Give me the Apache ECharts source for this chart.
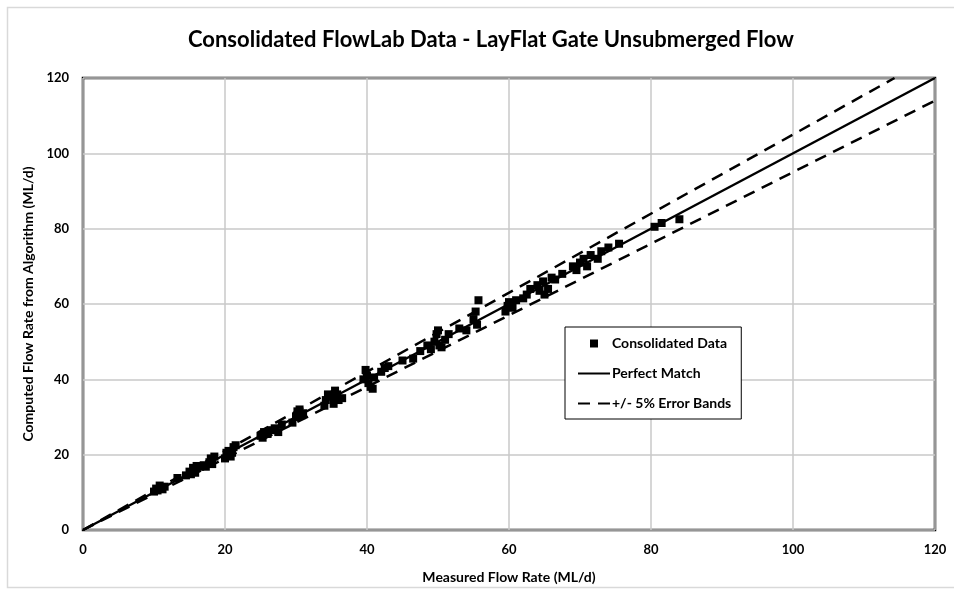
<!DOCTYPE html>
<html>
<head>
<meta charset="utf-8">
<script src="https://cdn.jsdelivr.net/npm/echarts@6/dist/echarts.min.js"></script>
<style>html,body{margin:0;padding:0;background:#fff}#c{width:954px;height:590px}</style>
</head>
<body>
<div id="c"></div>
<script>
const measured = [10.0,10.3,10.5,10.8,11.0,11.2,11.5,13.3,14.5,15.0,15.2,15.5,15.8,16.0,16.5,17.0,17.3,17.8,18.0,18.2,18.5,
  20.0,20.2,20.5,20.8,21.0,21.2,21.5,25.0,25.3,25.5,26.0,26.5,27.0,27.5,28.0,29.5,30.0,30.2,30.5,30.8,31.0,
  34.0,34.2,34.5,35.0,35.3,35.5,35.8,36.0,36.5,39.5,39.8,40.0,40.2,40.5,40.8,41.0,42.0,42.5,43.0,45.0,46.5,47.5,
  48.5,49.0,49.5,49.8,50.0,50.2,50.5,51.0,51.5,53.0,54.0,55.0,55.3,55.7,55.5,59.5,59.8,60.0,60.5,61.0,62.0,62.5,
  63.0,64.0,64.3,64.8,65.0,65.5,66.0,66.5,67.5,69.0,69.5,70.0,70.5,71.0,71.5,72.5,73.0,74.0,75.5,80.5,81.5,84.0];
const computed = [10.2,11.0,10.5,11.8,11.2,10.8,11.5,13.8,14.5,15.5,14.8,16.5,15.2,17.0,16.8,17.2,16.8,18.0,19.0,17.5,19.5,
  19.0,20.5,21.0,19.5,20.5,22.0,22.5,25.0,24.5,26.0,25.5,26.5,27.0,26.0,28.0,28.5,30.0,31.5,32.0,30.5,31.0,
  33.0,34.5,36.0,35.5,33.5,37.0,36.0,34.5,35.0,40.0,42.5,41.0,39.0,38.0,37.5,40.5,42.0,43.0,43.5,45.0,45.5,47.5,
  49.0,48.0,50.0,52.0,53.0,49.0,48.5,50.5,52.0,53.5,53.0,56.0,58.0,61.0,54.5,58.0,59.5,60.5,59.0,61.0,61.5,62.5,
  64.0,65.0,63.5,66.0,62.5,64.0,67.0,66.5,68.0,70.0,69.0,71.0,72.0,70.0,73.0,72.0,74.0,75.0,76.0,80.5,81.5,82.5];
const perfectX = [0, 120];
const perfectY = [0, 120];
const upperX = [0, 114.3];
const upperY = [0, 120];
const lowerX = [0, 120];
const lowerY = [0, 114];
const xTicks = [0, 20, 40, 60, 80, 100, 120];
const yTicks = [0, 20, 40, 60, 80, 100, 120];

const FONT = 'Lato';
const pts = measured.map((x, i) => [x, computed[i]]);
const pair = (xs, ys) => xs.map((x, i) => [x, ys[i]]);

const chart = echarts.init(document.getElementById('c'), null, {renderer: 'canvas'});
chart.setOption({
  animation: false,
  backgroundColor: '#fff',
  graphic: [{
    type: 'rect', left: 5, top: 5, z: -10, silent: true,
    shape: {width: 960, height: 580},
    style: {fill: 'none', stroke: '#d9d9d9', lineWidth: 1.5}
  }],
  title: {
    text: 'Consolidated FlowLab Data - LayFlat Gate Unsubmerged Flow',
    left: 183, top: 24,
    textStyle: {fontFamily: FONT, fontWeight: 'bold', fontSize: 22, color: '#000'}
  },
  grid: {left: 83, top: 78, right: 19, bottom: 60, show: true, borderColor: '#000', borderWidth: 2.5, backgroundColor: 'transparent'},
  legend: {
    orient: 'vertical', left: 565, top: 327,
    backgroundColor: '#fff', borderColor: '#000', borderWidth: 1,
    padding: [8, 10, 7, 12], itemGap: 13, itemWidth: 32, itemHeight: 8,
    textStyle: {fontFamily: FONT, fontWeight: 'bold', fontSize: 14, color: '#000', padding: [0, 0, 0, -3], lineHeight: 17},
    data: [
      {name: 'Consolidated Data', icon: 'path://M0,0H1V1H0Z'},
      {name: 'Perfect Match', itemStyle: {opacity: 0}},
      {name: '+/- 5% Error Bands', itemStyle: {opacity: 0}}
    ]
  },
  xAxis: {
    type: 'value', min: xTicks[0], max: xTicks[xTicks.length - 1], interval: 20,
    name: 'Measured Flow Rate (ML/d)', nameLocation: 'middle', nameGap: 40,
    nameTextStyle: {fontFamily: FONT, fontWeight: 'bold', fontSize: 14, color: '#000'},
    axisLine: {show: false}, axisTick: {show: false},
    axisLabel: {fontFamily: FONT, fontWeight: 'bold', fontSize: 13, color: '#000', margin: 13},
    splitLine: {show: true, lineStyle: {color: '#c8c8c8', width: 1.5}}
  },
  yAxis: {
    type: 'value', min: yTicks[0], max: yTicks[yTicks.length - 1], interval: 20,
    name: 'Computed Flow Rate from Algorithm (ML/d)', nameLocation: 'middle', nameGap: 46,
    nameTextStyle: {fontFamily: FONT, fontWeight: 'bold', fontSize: 14, color: '#000'},
    axisLine: {show: false}, axisTick: {show: false},
    axisLabel: {fontFamily: FONT, fontWeight: 'bold', fontSize: 13, color: '#000', margin: 14},
    splitLine: {show: true, lineStyle: {color: '#c8c8c8', width: 1.5}}
  },
  series: [
    {
      name: 'Consolidated Data', type: 'scatter', data: pts,
      symbol: 'rect', symbolSize: 8, itemStyle: {color: '#000', opacity: 1}, z: 5
    },
    {
      name: 'Perfect Match', type: 'line', data: pair(perfectX, perfectY),
      symbol: 'none', lineStyle: {color: '#000', width: 2.5}, itemStyle: {color: '#000'}, z: 3
    },
    {
      name: '+/- 5% Error Bands', type: 'line', data: pair(upperX, upperY),
      symbol: 'none', lineStyle: {color: '#000', width: 2.5, type: [12, 8]}, itemStyle: {color: '#000'}, z: 3
    },
    {
      name: '+/- 5% Error Bands', type: 'line', data: pair(lowerX, lowerY),
      symbol: 'none', lineStyle: {color: '#000', width: 2.5, type: [12, 8]}, itemStyle: {color: '#000'}, z: 3
    }
  ]
});
</script>
</body>
</html>
